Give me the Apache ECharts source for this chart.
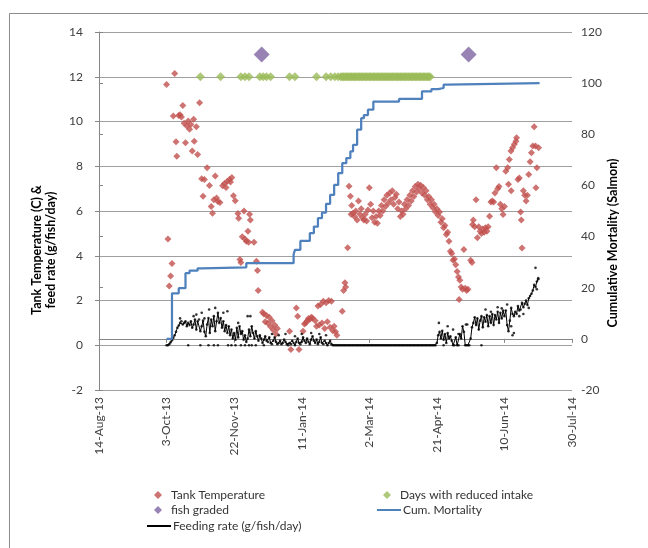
<!DOCTYPE html>
<html><head><meta charset="utf-8">
<script src="https://cdn.jsdelivr.net/npm/echarts@6/dist/echarts.min.js"></script>
<style>html,body{margin:0;padding:0;background:#fff}#c{width:648px;height:548px}</style>
</head><body><div id="c"></div>
<script>
// Day 0 = 14-Aug-13
const xTickLabels = ['14-Aug-13','3-Oct-13','22-Nov-13','11-Jan-14','2-Mar-14','21-Apr-14','10-Jun-14','30-Jul-14'];

const tempDays = [50,51,52,53,54,55,56,57,57.6,59,60,61,62,63,64,65,66,67,68,69,70,70.5,72,73,74.4,76,77,78,80,81.7,83,84,85,86,87,88,89.5,91.5,92.8,94,94.8,96.5,97.3,98.3,99.5,100.8,102.8,103.3,104.3,105,106,107.3,108,109,110.2,110.7,111.4,112,114.7,116.5,117.3,117.8,
121,122,123,124,125,126,127,128,129,130,131,132,141,142,146,147,148,151,152,153,154,155,156,157,158,160,161,162,163,164,165,166,167,168,169,170,171,172,173,174,175,176,180,181,182,182.5,184,185,
186,186.5,187,188,189,190,191,192,193,194,195,196,197,198,199,200,201,202,203,204,205,206,207,208,209,210,211,212,213,214,215,216,217,218,219,220,221,222,223,224,225,226,227,228,229,230,231,232,233,234,235,236,237,238,239,240,241,242,243,244,245,246,247,248,249,250,251,252,253,254,255,256,257,258,259,260,261,262,263,264,265,266,266.5,267,268,269,270,271,272,273,275,276,
276.4,277,278,279,280,281,282,283,284,285,286,287,288,289,290,291,292,293,294,295,296,297,298,299,300,301,302.4,303,303.6,304.8,305,306,307.3,308.5,309,310,311,312,312.5,313,314,315,316,317,318,319,320,321,322,323,323.3,324,325.3];
const tempVals = [11.65,4.75,2.65,3.1,3.65,10.25,12.15,9.1,8.45,10.27,10.3,10.2,10.72,9.92,9.05,9.8,10.02,9.65,9.87,8.68,10.1,9.12,9.77,8.53,10.84,7.44,6.66,7.41,7.93,7.14,6.2,5.9,6.5,7.56,6.58,6.43,6.38,7.13,7.23,7.05,7.32,7.41,7.3,7.5,6.68,6.46,5.89,5.68,3.83,3.7,4.85,6.0,4.75,4.65,5.1,4.6,5.85,5.6,4.6,3.75,3.34,2.45,
1.48,1.4,1.05,1.33,0.98,1.25,0.83,1.1,0.68,0.9,0.5,0.75,0.63,-0.19,1.67,1.3,-0.19,0.63,0.95,1.0,1.1,1.2,1.15,1.25,1.22,1.1,0.85,1.75,0.9,1.82,1.0,1.97,0.75,1.9,1.05,2.0,0.8,1.97,0.65,0.85,0.6,0.45,1.52,2.45,2.79,2.6,4.36,7.11,
6.66,5.85,6.25,5.9,5.75,6.0,5.6,6.45,5.85,6.1,5.7,5.6,5.85,5.55,6.05,7.04,6.3,5.7,6.0,5.5,5.75,5.45,6.0,5.8,6.25,6.0,6.5,6.2,6.7,6.35,6.8,6.5,6.9,6.3,6.6,6.75,6.1,6.4,5.75,6.0,5.85,6.3,6.1,6.5,6.25,6.7,6.45,6.9,6.65,7.1,6.85,7.2,7.0,7.15,6.8,7.05,6.7,6.9,6.5,6.65,6.3,6.5,6.15,6.3,5.95,6.1,5.8,5.95,5.5,5.65,5.25,5.35,4.95,5.05,4.65,4.2,4.1,3.8,3.85,3.6,3.3,3.05,2.04,2.9,2.6,2.5,4.28,2.55,2.45,2.5,3.8,3.7,
5.4,5.6,5.3,6.5,4.8,5.3,5.1,5.0,5.2,5.05,5.25,5.1,5.3,5.77,6.4,6.45,6.4,6.8,7.93,7.0,7.1,6.3,6.1,5.84,6.2,7.78,7.93,7.2,8.3,8.68,6.9,8.83,8.98,9.12,9.27,7.41,7.48,5.95,5.6,4.35,6.9,6.7,6.45,6.7,7.63,8.2,8.6,8.9,9.77,8.9,7.04,7.93,8.83];

const reducedIntakeDays = [75,90,105,108,111,119,121.5,124,127,141,145,161,168,171.5,174.5,177,
179,180,181,182,183,184,185,186,187,188,189,190,191,192,193,194,195,196,197,198,199,200,201,202,203,204,205,206,207,208,209,210,211,212,213,214,215,216,217,218,219,220,221,222,223,224,225,226,227,228,229,230,231,232,233,234,235,236,237,238,239,240,241,242,243,244,245];
const reducedIntakeLevel = 12;

const gradedDays = [120.4, 273.5];
const gradedVals = [13.0, 13.0];

const feedStartDay = 50;
const feedVals = [
0,0,0.05,0.13,0.22,0.33,0.45,0.6,0.78,0.88,
1.0,1.07,0.93,1.0,1.07,0.85,1.0,0.9,1.07,0.78,
0.93,1.15,0.7,1.07,1.15,0.63,0.85,1.1,0.6,0.4,
0.93,1.22,0.55,1.15,0.85,1.3,0.63,1.07,1.45,1.0,
1.22,0.78,1.07,0.63,0.9,0.55,0.85,0.45,0.7,0.3,
0.55,0.25,0.78,0.35,0.85,0.5,0.63,0.25,0.45,0.15,
0.3,0.7,0.4,0.85,0.55,0.3,0.63,0.4,0.2,0.45,
0.3,0.1,0.25,0.4,0.2,0.15,0.35,0.1,0.05,0.2,
0.35,0.15,0.05,0.1,0.2,0.05,0.1,0.25,0.15,0.05,
0,0.1,0.05,0.2,0.1,0,0.15,0.3,0.1,0.05,
0.15,0.35,0.2,0.1,0.3,0.15,0.05,0.25,0.4,0.2,
0.1,0.25,0.05,0.15,0.35,0.1,0.05,0.2,0.1,0,
0.1,0.2,0.05,0,0,0,0,0,0,0,
0,0,0,0,0,0,0,0,0,0,
0,0,0,0,0,0,0,0,0,0,
0,0,0,0,0,0,0,0,0,0,
0,0,0,0,0,0,0,0,0,0,
0,0,0,0,0,0,0,0,0,0,
0,0,0,0,0,0,0,0,0,0,
0,0,0,0,0,0,0,0,0,0,
0.1,0.45,0.6,0.3,0.65,0.25,0.5,0.1,0.55,0.3,
0.4,0.2,0,0,0.35,0,0,0.5,0.3,0.85,
0.6,0,0,0,0,0.3,0.8,1.0,1.25,0.9,
1.2,0.7,1.1,1.3,0.8,1.25,1.05,1.35,0.85,1.3,
1.0,1.4,0.9,1.35,1.15,1.5,1.0,1.45,1.2,1.55,
1.3,1.55,0.9,0.63,1.1,1.67,1.4,1.3,1.5,1.4,
1.75,1.55,1.6,1.9,1.7,1.85,2.0,1.8,2.1,2.2,
2.3,2.45,2.7,2.6,2.85,2.95];

// daily feed readings that sit off the plotted line
const feedExtraDays = [60,66,70,72,75,76,78,81,81.5,85,86,88,92,95,95.5,98,101,103,105,108,110,111,112,113,116,122,128,133,138,145,150,157,163,168,251.5,255,258,262,266,271.5,272.5,283,286,290,295,298,302,305,306,307,311,314,318,323,324,325];
const feedExtraVals = [1.2,0,1.3,1.37,0,1.45,1.2,0,1.6,0,1.67,0,1.45,1.52,0,0,0,1.0,0,0,1.3,0,1.3,0,0,0,0.5,0.45,0.5,0.4,0.5,0.55,0.5,0.45,1.0,0,0.85,0.7,0.5,0.93,0.93,0,1.6,1.5,1.7,1.65,1.82,0.85,0.45,0.55,1.3,1.4,1.67,3.46,2.5,3.0];

// cumulative mortality: day of change and new total
const mortDays = [50,54,59,64,67,73,76,109,144,145,149,156,159,162,165,168,171,174,177,180,183,186,188,191,194,196,199,203,222,239,246,251,255,258,326];
const mortVals = [0,17.8,19.8,25.7,26.7,27.6,28,29.6,33,34.8,38.3,41.3,43.9,47.2,49.4,52.8,56.3,60.2,64.8,68.7,70.7,73.3,75.9,81.8,86.3,87.5,89.6,92.8,93.8,96.8,97.7,98.1,99.4,100,100];

const FONT = 'Lato';
const tempData = tempDays.map((d,i)=>[d,tempVals[i]]);
const reducedData = reducedIntakeDays.map(d=>[d,reducedIntakeLevel]);
const gradedData = gradedDays.map((d,i)=>[d,gradedVals[i]]);
const feedLineData = feedVals.map((v,i)=>[feedStartDay+i,v]);
const feedDotData = feedLineData.concat(feedExtraDays.map((d,i)=>[d,feedExtraVals[i]]));
const mortData = mortDays.map((d,i)=>[d,mortVals[i]]);

const chart = echarts.init(document.getElementById('c'), null, {renderer:'canvas'});
const axisGray = '#868686';
const labelStyle = {fontFamily: FONT, fontSize: 12, color: '#404040'};
const legendText = {fontFamily: FONT, fontSize: 12, color: '#333'};
function markerLegend(name, left, top) {
  return {left: left, top: top, itemWidth: 8, itemHeight: 8, padding: 0,
    textStyle: Object.assign({padding: [0,0,0,4]}, legendText), data: [name]};
}
function lineLegend(name, left, top) {
  return {left: left, top: top, itemWidth: 24, itemHeight: 8, padding: 0,
    textStyle: Object.assign({padding: [0,0,0,-3]}, legendText), data: [{name: name, itemStyle: {opacity: 0}}]};
}
chart.setOption({
  animation: false,
  backgroundColor: '#fff',
  grid: {left: 99, right: 76, top: 32, bottom: 158, containLabel: false},
  xAxis: [{
    type: 'value', min: 0, max: 350, interval: 50,
    axisLine: {show: false}, axisTick: {show: false}, splitLine: {show: false},
    axisLabel: Object.assign({rotate: 90, margin: 7, showMinLabel: true, showMaxLabel: true,
      formatter: v => xTickLabels[Math.round(v/50)]}, labelStyle)
  }, {
    type: 'value', min: 0, max: 350, interval: 50, position: 'bottom',
    axisLine: {show: true, onZero: true, lineStyle: {color: axisGray, width: 1}},
    axisTick: {show: true, length: 4, lineStyle: {color: axisGray}},
    axisLabel: {show: false}, splitLine: {show: false}
  }],
  yAxis: [{
    type: 'value', min: -2, max: 14, interval: 2, position: 'left',
    axisLine: {show: false}, axisTick: {show: true, length: 4, lineStyle: {color: axisGray}},
    splitLine: {show: true, lineStyle: {color: '#a0a0a0', width: 1}},
    axisLabel: Object.assign({margin: 16, showMinLabel: true, showMaxLabel: true}, labelStyle)
  }, {
    type: 'value', min: -20, max: 120, interval: 20, position: 'right',
    axisLine: {show: true, lineStyle: {color: axisGray, width: 1}},
    axisTick: {show: true, length: 4, lineStyle: {color: axisGray}},
    splitLine: {show: false},
    axisLabel: Object.assign({margin: 9, showMinLabel: true, showMaxLabel: true}, labelStyle)
  }],
  legend: [
    markerLegend('Tank Temperature', 154, 489),
    markerLegend('fish graded', 154, 504),
    lineLegend('Feeding rate (g/fish/day)', 146, 520),
    markerLegend('Days with reduced intake', 383, 489),
    lineLegend('Cum. Mortality', 376, 504)
  ],
  graphic: [
    {type: 'rect', shape: {x: 9.5, y: 13.5, width: 700, height: 600}, style: {fill: 'none', stroke: '#8c8c8c', lineWidth: 1}, silent: true},
    {type: 'text', x: 44, y: 250, rotation: Math.PI/2, style: {text: 'Tank Temperature (C) &\nfeed rate (g/fish/day)', font: 'bold 12.5px ' + FONT, fill: '#000', align: 'center', verticalAlign: 'middle', lineHeight: 14}},
    {type: 'text', x: 613, y: 243, rotation: Math.PI/2, style: {text: 'Cumulative Mortality (Salmon)', font: 'bold 12.5px ' + FONT, fill: '#000', align: 'center', verticalAlign: 'middle'}}
  ],
  series: [
    {name: 'Tank Temperature', type: 'scatter', xAxisIndex: 0, yAxisIndex: 0, data: tempData,
      symbol: 'diamond', symbolSize: 7, itemStyle: {color: '#C0504D'}, z: 2},
    {name: 'Days with reduced intake', type: 'scatter', xAxisIndex: 0, yAxisIndex: 0, data: reducedData,
      symbol: 'diamond', symbolSize: 9, itemStyle: {color: '#9BBB59'}, z: 2},
    {name: 'fish graded', type: 'scatter', xAxisIndex: 0, yAxisIndex: 0, data: gradedData,
      symbol: 'diamond', symbolSize: 16, itemStyle: {color: '#8064A2'}, z: 2},
    {name: 'Feeding rate (g/fish/day)', type: 'line', xAxisIndex: 0, yAxisIndex: 0, data: feedLineData,
      showSymbol: false, symbol: 'none', lineStyle: {color: '#000', width: 1}, itemStyle: {color: '#000'}, z: 3},
    {name: 'feed readings', type: 'scatter', xAxisIndex: 0, yAxisIndex: 0, data: feedDotData,
      symbol: 'circle', symbolSize: 2.6, itemStyle: {color: '#000'}, z: 3},
    {name: 'Cum. Mortality', type: 'line', xAxisIndex: 0, yAxisIndex: 1, data: mortData, step: 'end',
      showSymbol: false, symbol: 'none', lineStyle: {color: '#4F81BD', width: 2.25}, itemStyle: {color: '#4F81BD'}, z: 4}
  ]
});
</script></body></html>
